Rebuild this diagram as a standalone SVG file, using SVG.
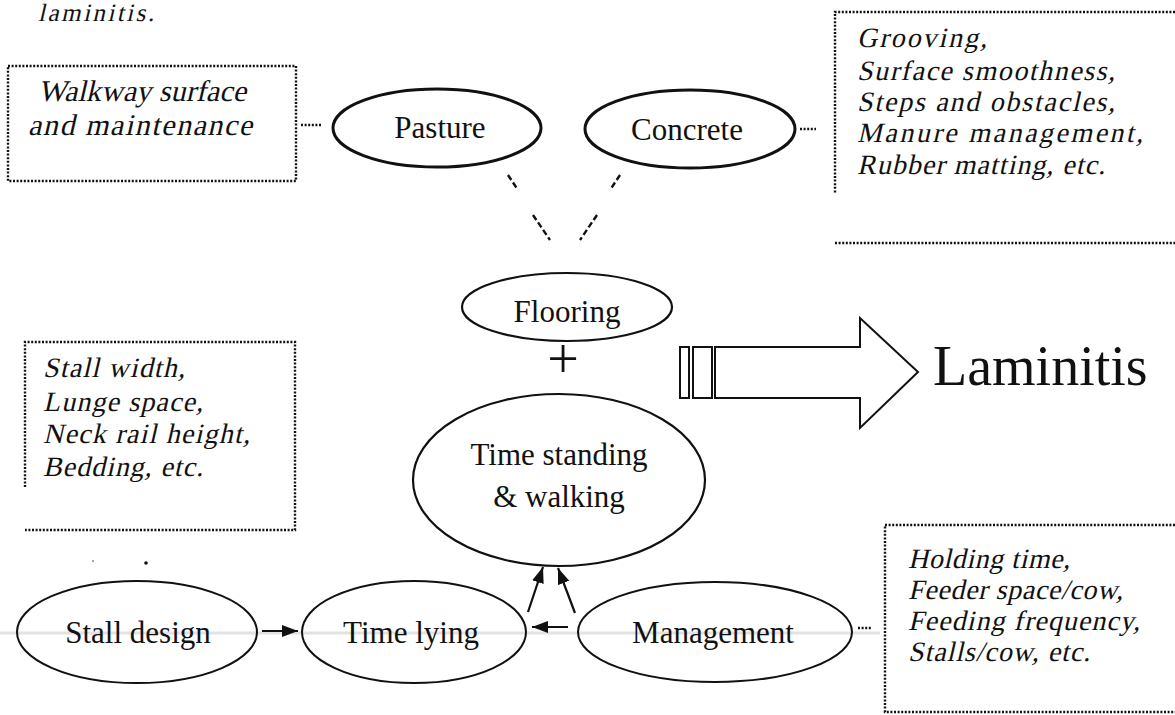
<svg xmlns="http://www.w3.org/2000/svg" width="1175" height="715" viewBox="0 0 1175 715">
<defs>
<style>
.lbl{font-family:"Liberation Serif","Times New Roman",serif;font-size:31px;fill:#111;text-anchor:middle}
.it{font-family:"Liberation Serif","Times New Roman",serif;font-size:28px;fill:#111}
.ell{fill:none;stroke:#111;stroke-width:2.4}
.dot{fill:none;stroke:#111;stroke-width:2.4;stroke-dasharray:2 1.6}
.dash{fill:none;stroke:#111;stroke-width:2.4;stroke-dasharray:6 3}
.arr{fill:none;stroke:#111;stroke-width:2.2}
</style>
<marker id="ah" markerUnits="userSpaceOnUse" markerWidth="18" markerHeight="14" refX="16" refY="6" orient="auto">
<path d="M0,0 L16,6 L0,12 z" fill="#111"/>
</marker>
</defs>
<rect width="1175" height="715" fill="#fff"/>
<line x1="0" y1="633" x2="880" y2="633" stroke="#e2e2e2" stroke-width="3"/>

<g transform="translate(38,21) skewX(-13)"><text x="0" y="0" class="it" style="font-size:25px" textLength="116" lengthAdjust="spacing">laminitis.</text></g>

<g id="walkway-box">
<rect x="8" y="66" width="288" height="115" class="dot"/>
<g transform="translate(38,101) skewX(-13)"><text x="0" y="0" class="it" style="font-size:30px" textLength="208" lengthAdjust="spacing">Walkway surface</text></g>
<g transform="translate(28,135) skewX(-13)"><text x="0" y="0" class="it" style="font-size:30px" textLength="224" lengthAdjust="spacing">and  maintenance</text></g>
</g>

<g id="pasture">
<ellipse cx="437" cy="128" rx="104" ry="39" class="ell" style="stroke-width:3"/>
<text x="440" y="138" class="lbl">Pasture</text>
</g>

<g id="concrete">
<ellipse cx="690" cy="129" rx="105" ry="39" class="ell" style="stroke-width:3"/>
<text x="687" y="140" class="lbl">Concrete</text>
</g>

<g id="surface-box">
<path d="M1175,12 L835,12 L835,193" class="dot"/>
<line x1="835" y1="243" x2="1175" y2="243" class="dot"/>
<g transform="translate(857,47) skewX(-13)"><text x="0" y="0" class="it" textLength="130" lengthAdjust="spacing">Grooving,</text></g>
<g transform="translate(857,80) skewX(-13)"><text x="0" y="0" class="it" textLength="258" lengthAdjust="spacing">Surface smoothness,</text></g>
<g transform="translate(857,111) skewX(-13)"><text x="0" y="0" class="it" textLength="258" lengthAdjust="spacing">Steps and obstacles,</text></g>
<g transform="translate(857,142) skewX(-13)"><text x="0" y="0" class="it" textLength="286" lengthAdjust="spacing">Manure  management,</text></g>
<g transform="translate(857,174) skewX(-13)"><text x="0" y="0" class="it" textLength="248" lengthAdjust="spacing">Rubber matting, etc.</text></g>
</g>

<g id="flooring">
<ellipse cx="567" cy="307" rx="105" ry="34" class="ell" style="stroke-width:2.2"/>
<text x="567" y="322" class="lbl">Flooring</text>
</g>

<g id="plus">
<text x="563" y="378" class="lbl" style="font-size:56px">+</text>
</g>

<g id="time-standing">
<ellipse cx="559" cy="480" rx="146" ry="86" class="ell" style="stroke-width:2.2"/>
<text x="559" y="465" class="lbl">Time standing</text>
<text x="559" y="507" class="lbl">&amp; walking</text>
</g>

<g id="stall-box">
<path d="M25,487 L25,342 L295,342 L295,530 L25,530" class="dot"/>
<g transform="translate(43,377) skewX(-13)"><text x="0" y="0" class="it" textLength="142" lengthAdjust="spacing">Stall width,</text></g>
<g transform="translate(43,411) skewX(-13)"><text x="0" y="0" class="it" textLength="160" lengthAdjust="spacing">Lunge  space,</text></g>
<g transform="translate(43,443) skewX(-13)"><text x="0" y="0" class="it" textLength="207" lengthAdjust="spacing">Neck rail height,</text></g>
<g transform="translate(43,476) skewX(-13)"><text x="0" y="0" class="it" textLength="160" lengthAdjust="spacing">Bedding,  etc.</text></g>
</g>

<g id="laminitis">
<rect x="680" y="347" width="9" height="51" fill="#fff" stroke="#111" stroke-width="2"/>
<rect x="693" y="347" width="19" height="51" fill="#fff" stroke="#111" stroke-width="2"/>
<polygon points="715,347 860,347 860,318 918,372 860,428 860,398 715,398" fill="#fff" stroke="#111" stroke-width="2"/>
<text x="933" y="385" class="lbl" style="font-size:56px;text-anchor:start">Laminitis</text>
</g>

<g id="stall-design">
<ellipse cx="137" cy="632" rx="120" ry="51" class="ell" style="stroke-width:2"/>
<text x="138" y="643" class="lbl">Stall design</text>
</g>

<g id="time-lying">
<ellipse cx="414" cy="632" rx="112" ry="51" class="ell" style="stroke-width:2"/>
<text x="411" y="643" class="lbl">Time lying</text>
</g>

<g id="management">
<ellipse cx="715" cy="632" rx="137" ry="50" class="ell" style="stroke-width:2"/>
<text x="713" y="643" class="lbl">Management</text>
</g>

<g id="holding-box">
<path d="M1175,525 L885,525 L885,712 L1175,712" class="dot"/>
<g transform="translate(908,568) skewX(-13)"><text x="0" y="0" class="it" textLength="162" lengthAdjust="spacing">Holding time,</text></g>
<g transform="translate(908,599) skewX(-13)"><text x="0" y="0" class="it" textLength="215" lengthAdjust="spacing">Feeder space/cow,</text></g>
<g transform="translate(908,630) skewX(-13)"><text x="0" y="0" class="it" textLength="232" lengthAdjust="spacing">Feeding frequency,</text></g>
<g transform="translate(908,661) skewX(-13)"><text x="0" y="0" class="it" textLength="182" lengthAdjust="spacing">Stalls/cow, etc.</text></g>
</g>

<g id="small-dots">
<circle cx="93" cy="561" r="0.8" fill="#333"/>
<circle cx="146" cy="563" r="1.8" fill="#111"/>
</g>

<g id="connectors">
<line x1="301" y1="125" x2="321" y2="125" class="dot"/>
<line x1="800" y1="129" x2="816" y2="129" class="dot"/>
<line x1="858" y1="628" x2="872" y2="628" class="dot"/>
<line x1="508" y1="175" x2="518" y2="190" class="dash"/>
<line x1="533" y1="215" x2="550" y2="240" class="dash"/>
<line x1="620" y1="175" x2="610" y2="190" class="dash"/>
<line x1="597" y1="215" x2="580" y2="240" class="dash"/>
<line x1="262" y1="631" x2="298" y2="631" class="arr" marker-end="url(#ah)"/>
<line x1="568" y1="627" x2="532" y2="627" class="arr" marker-end="url(#ah)"/>
<line x1="528" y1="612" x2="543" y2="567" class="arr" marker-end="url(#ah)"/>
<line x1="575" y1="613" x2="558" y2="568" class="arr" marker-end="url(#ah)"/>
</g>
</svg>
